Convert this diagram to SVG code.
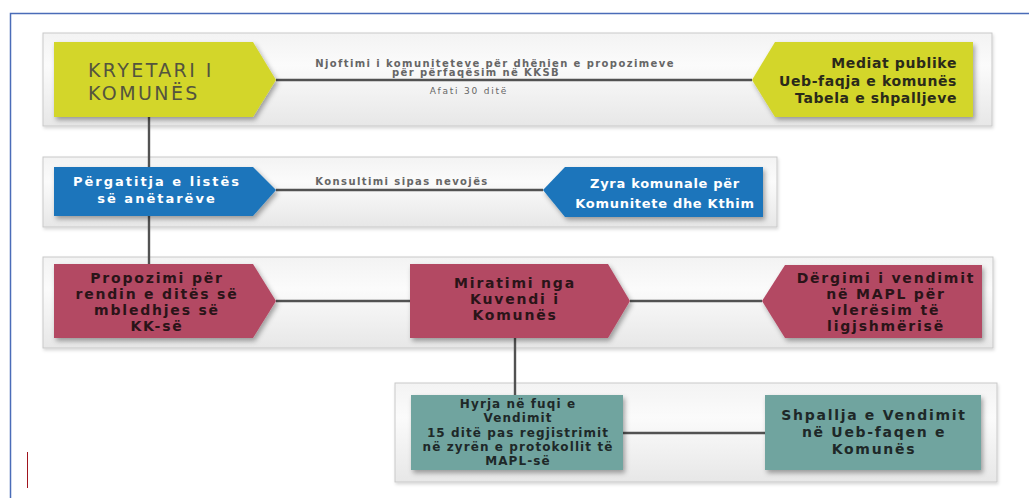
<svg xmlns="http://www.w3.org/2000/svg" width="1029" height="498" viewBox="0 0 1029 498">
<style>
text{font-family:"DejaVu Sans","Liberation Sans",Arial,sans-serif;}
.panel{fill:url(#pg);stroke:#c9c9c9;stroke-width:1;filter:url(#ps);}
.conn{stroke:#525252;stroke-width:2.4;fill:none;}
.yel{fill:#d3d62a;filter:url(#ns);}
.blu{fill:#1b75bb;filter:url(#ns);}
.red{fill:#b34863;filter:url(#ns);}
.tea{fill:#6fa49f;filter:url(#ns);}
.k{font-size:19px;letter-spacing:2.4px;fill:#54543e;}
.lbl{font-size:10px;font-weight:bold;letter-spacing:1.4px;fill:#666;text-anchor:middle;}
.lbs{font-size:9px;letter-spacing:1.8px;fill:#666;text-anchor:middle;}
.ty{font-size:14px;font-weight:bold;letter-spacing:0.6px;fill:#2a2a1a;text-anchor:end;}
.tb{font-size:13px;font-weight:bold;fill:#fff;text-anchor:middle;}
.tr{font-size:14px;font-weight:bold;letter-spacing:1.8px;fill:#2a1418;text-anchor:middle;}
.tt{font-size:12px;font-weight:bold;letter-spacing:1.1px;fill:#1e2828;text-anchor:middle;}
.tt2{font-size:14px;font-weight:bold;letter-spacing:1.7px;fill:#1e2828;text-anchor:middle;}
</style>
<defs>
<linearGradient id="pg" x1="0" y1="0" x2="0" y2="1">
<stop offset="0" stop-color="#f3f3f3"/>
<stop offset="0.35" stop-color="#fbfbfb"/>
<stop offset="1" stop-color="#e7e7e7"/>
</linearGradient>
<filter id="ps" x="-5%" y="-10%" width="110%" height="130%">
<feDropShadow dx="1" dy="2" stdDeviation="1.5" flood-color="#000" flood-opacity="0.15"/>
</filter>
<filter id="ns" x="-10%" y="-20%" width="125%" height="150%">
<feDropShadow dx="2" dy="3" stdDeviation="2.5" flood-color="#000" flood-opacity="0.35"/>
</filter>
</defs>
<rect width="1029" height="498" fill="#fff"/>
<path d="M10.5,498 V13.5 H1029" fill="none" stroke="#4a6cb8" stroke-width="1.5"/>
<line x1="27.5" y1="452" x2="27.5" y2="488" stroke="#a0141e" stroke-width="1"/>

<g id="panels">
<rect class="panel" x="43" y="33" width="949" height="93"/>
<rect class="panel" x="43" y="157" width="734" height="70"/>
<rect class="panel" x="43" y="257" width="950" height="91"/>
<rect class="panel" x="395" y="383" width="602" height="99"/>
</g>

<g id="connectors">
<line class="conn" x1="149" y1="117" x2="149" y2="264"/>
<line class="conn" x1="276" y1="80" x2="752" y2="80"/>
<line class="conn" x1="276" y1="190" x2="543" y2="190"/>
<line class="conn" x1="276" y1="301" x2="410" y2="301"/>
<line class="conn" x1="630" y1="301" x2="762" y2="301"/>
<line class="conn" x1="515" y1="338" x2="515" y2="395"/>
<line class="conn" x1="623" y1="433" x2="765" y2="433"/>
<text class="lbl" x="495" y="67">Njoftimi i komuniteteve për dhënien e propozimeve</text>
<text class="lbl" x="476" y="76">për përfaqësim në KKSB</text>
<text class="lbs" x="469" y="94">Afati 30 ditë</text>
<text class="lbl" x="402" y="185">Konsultimi sipas nevojës</text>
</g>

<g id="kryetari">
<polygon class="yel" points="54,42 253,42 276,80 253,117 54,117"/>
<text class="k" x="88" y="77">KRYETARI I</text>
<text class="k" x="88" y="100">KOMUNËS</text>
</g>

<g id="mediat">
<polygon class="yel" points="775,42 973,42 973,117 775,117 752,80"/>
<text class="ty" x="957" y="68">Mediat publike</text>
<text class="ty" x="957" y="86">Ueb-faqja e komunës</text>
<text class="ty" x="957" y="103">Tabela e shpalljeve</text>
</g>

<g id="pergatitja">
<polygon class="blu" points="54,167 253,167 276,190 253,216 54,216"/>
<text class="tb" x="157" y="186" letter-spacing="2">Përgatitja e listës</text>
<text class="tb" x="157" y="203" letter-spacing="2">së anëtarëve</text>
</g>

<g id="zyra">
<polygon class="blu" points="565,167 763,167 763,217 565,217 543,190"/>
<text class="tb" x="665" y="188" letter-spacing="0.7">Zyra komunale për</text>
<text class="tb" x="665" y="208" letter-spacing="0.7">Komunitete dhe Kthim</text>
</g>

<g id="propozimi">
<polygon class="red" points="54,264 253,264 276,301 253,338 54,338"/>
<text class="tr" x="157" y="283">Propozimi për</text>
<text class="tr" x="157" y="299">rendin e ditës së</text>
<text class="tr" x="157" y="315">mbledhjes së</text>
<text class="tr" x="157" y="331">KK-së</text>
</g>

<g id="miratimi">
<polygon class="red" points="410,264 608,264 630,301 608,338 410,338"/>
<text class="tr" x="515" y="288">Miratimi nga</text>
<text class="tr" x="515" y="304">Kuvendi i</text>
<text class="tr" x="515" y="320">Komunës</text>
</g>

<g id="dergimi">
<polygon class="red" points="785,265 982,265 982,338 785,338 762,301"/>
<text class="tr" x="886" y="283">Dërgimi i vendimit</text>
<text class="tr" x="886" y="299">në MAPL për</text>
<text class="tr" x="886" y="315">vlerësim të</text>
<text class="tr" x="886" y="331">ligjshmërisë</text>
</g>

<g id="hyrja">
<rect class="tea" x="411" y="395" width="212" height="75"/>
<text class="tt" x="518" y="408">Hyrja në fuqi e</text>
<text class="tt" x="518" y="422">Vendimit</text>
<text class="tt" x="518" y="437">15 ditë pas regjistrimit</text>
<text class="tt" x="518" y="451">në zyrën e protokollit të</text>
<text class="tt" x="518" y="465">MAPL-së</text>
</g>

<g id="shpallja">
<rect class="tea" x="765" y="395" width="216" height="75"/>
<text class="tt2" x="874" y="420">Shpallja e Vendimit</text>
<text class="tt2" x="874" y="437">në Ueb-faqen e</text>
<text class="tt2" x="874" y="454">Komunës</text>
</g>
</svg>
